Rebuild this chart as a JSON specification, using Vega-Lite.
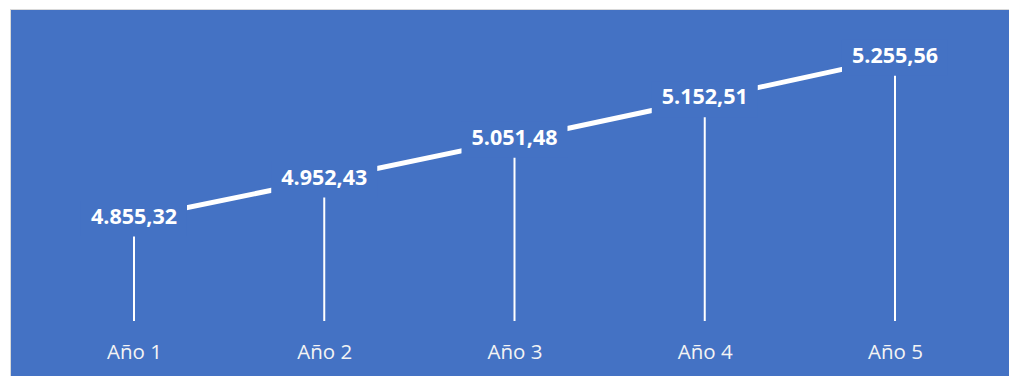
{
  "$schema": "https://vega.github.io/schema/vega-lite/v6.json",
  "width": 999,
  "height": 367,
  "autosize": {"type": "none"},
  "padding": {"left": 10, "top": 9, "right": 0, "bottom": 0},
  "background": "#ffffff",
  "config": {
    "view": {"fill": "#4472C4", "stroke": "#d9d9d9", "strokeWidth": 1},
    "locale": {"number": {"decimal": ",", "thousands": ".", "grouping": [3], "currency": ["", " €"]}}
  },
  "data": {"values": [
    {"year": "Año 1", "value": 4855.32},
    {"year": "Año 2", "value": 4952.43},
    {"year": "Año 3", "value": 5051.48},
    {"year": "Año 4", "value": 5152.51},
    {"year": "Año 5", "value": 5255.56}
  ]},
  "encoding": {
    "x": {
      "field": "year", "type": "ordinal",
      "scale": {"type": "point", "padding": 0.6255, "align": 0.521},
      "axis": {
        "title": null, "orient": "bottom", "offset": -18,
        "domain": false, "ticks": false, "tickSize": 0, "grid": false,
        "labelPadding": 0, "labelBaseline": "alphabetic", "labelAngle": 0,
        "labelFont": "Open Sans", "labelFontSize": 20.5, "labelColor": "#f4f4f4"
      }
    },
    "y": {
      "field": "value", "type": "quantitative",
      "scale": {"domain": [4463, 5377.2], "zero": false, "nice": false},
      "axis": null
    }
  },
  "layer": [
    {
      "mark": {"type": "line", "color": "#ffffff", "strokeWidth": 5, "strokeCap": "butt"}
    },
    {
      "mark": {"type": "rule", "color": "#ffffff", "strokeWidth": 2},
      "encoding": {"y2": {"datum": 4600}}
    },
    {
      "mark": {"type": "point", "shape": "M-1,-0.34H1V0.34H-1Z", "filled": true, "fill": "#4472C4", "opacity": 1, "strokeWidth": 0, "size": 11236}
    },
    {
      "mark": {"type": "text", "color": "#ffffff", "font": "Open Sans", "fontSize": 21.5, "fontWeight": "bold", "baseline": "middle", "align": "center", "dy": -1},
      "encoding": {"text": {"field": "value", "type": "quantitative", "format": ",.2f"}}
    }
  ]
}
